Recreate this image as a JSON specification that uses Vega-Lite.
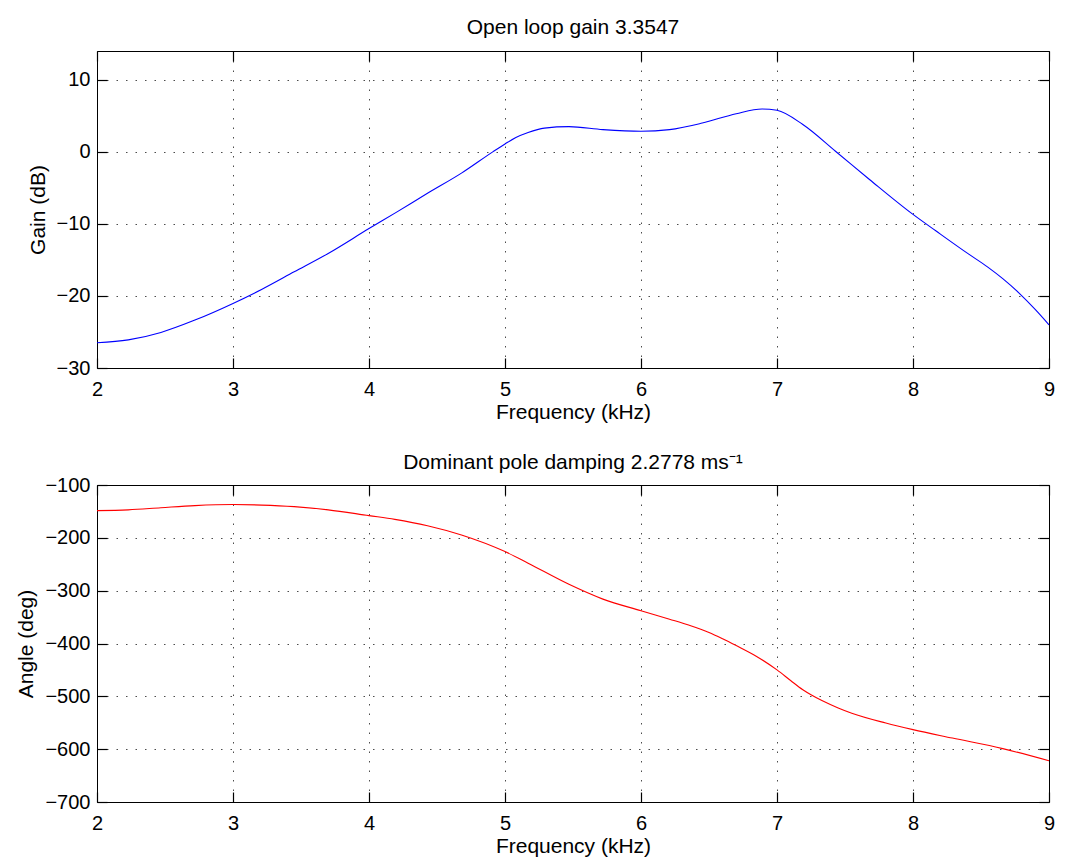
{
  "$schema": "https://vega.github.io/schema/vega-lite/v6.json",
  "background": "white",
  "padding": {"left": 15, "top": 16, "right": 5, "bottom": 5},
  "datasets": {
    "gain": [
      {"f": 2.0, "g": -26.5}, {"f": 2.23, "g": -26.1}, {"f": 2.47, "g": -25.06}, {"f": 2.72, "g": -23.35},
      {"f": 3.0, "g": -21.04}, {"f": 3.21, "g": -19.1}, {"f": 3.45, "g": -16.65}, {"f": 3.7, "g": -14.1},
      {"f": 4.0, "g": -10.65}, {"f": 4.2, "g": -8.4}, {"f": 4.43, "g": -5.75}, {"f": 4.68, "g": -2.95},
      {"f": 4.91, "g": 0.0}, {"f": 5.0, "g": 1.1}, {"f": 5.08, "g": 2.0}, {"f": 5.17, "g": 2.7},
      {"f": 5.29, "g": 3.3}, {"f": 5.47, "g": 3.5}, {"f": 5.72, "g": 3.09}, {"f": 6.0, "g": 2.86},
      {"f": 6.21, "g": 3.09}, {"f": 6.45, "g": 4.0}, {"f": 6.7, "g": 5.3}, {"f": 6.89, "g": 5.96},
      {"f": 7.0, "g": 5.77}, {"f": 7.19, "g": 3.79}, {"f": 7.43, "g": 0.09}, {"f": 7.68, "g": -3.83},
      {"f": 8.0, "g": -8.68}, {"f": 8.17, "g": -10.99}, {"f": 8.41, "g": -14.2}, {"f": 8.55, "g": -16.0},
      {"f": 8.66, "g": -17.6}, {"f": 8.78, "g": -19.6}, {"f": 8.9, "g": -21.9}, {"f": 9.0, "g": -24.0}
    ],
    "phase": [
      {"f": 2.0, "a": -148.5}, {"f": 2.23, "a": -147}, {"f": 2.47, "a": -143}, {"f": 2.72, "a": -139},
      {"f": 3.0, "a": -137}, {"f": 3.21, "a": -138}, {"f": 3.45, "a": -141}, {"f": 3.7, "a": -147},
      {"f": 4.0, "a": -158}, {"f": 4.19, "a": -165}, {"f": 4.43, "a": -177}, {"f": 4.68, "a": -194.5},
      {"f": 5.0, "a": -226}, {"f": 5.17, "a": -248}, {"f": 5.47, "a": -288}, {"f": 5.72, "a": -316},
      {"f": 6.0, "a": -338}, {"f": 6.21, "a": -354}, {"f": 6.35, "a": -365}, {"f": 6.5, "a": -379},
      {"f": 6.6, "a": -391}, {"f": 6.7, "a": -404}, {"f": 6.85, "a": -424.5}, {"f": 7.0, "a": -450},
      {"f": 7.1, "a": -470}, {"f": 7.19, "a": -487.5}, {"f": 7.25, "a": -497}, {"f": 7.33, "a": -508},
      {"f": 7.45, "a": -522}, {"f": 7.55, "a": -532}, {"f": 7.8, "a": -550.5}, {"f": 8.0, "a": -563},
      {"f": 8.29, "a": -579}, {"f": 8.66, "a": -599}, {"f": 9.0, "a": -622}
    ]
  },
  "spacing": 28,
  "vconcat": [
    {
      "title": {"text": "Open loop gain 3.3547", "offset": 12},
      "width": 952,
      "height": 317,
      "data": {"name": "gain"},
      "layer": [
        {
          "mark": {"type": "line", "color": "#0000ff", "strokeWidth": 1.1, "interpolate": "monotone"},
          "encoding": {
            "x": {"field": "f", "type": "quantitative", "scale": {"domain": [2, 9], "nice": false, "zero": false},
                  "axis": {"values": [2, 3, 4, 5, 6, 7, 8, 9], "title": "Frequency (kHz)", "ticks": false, "labelPadding": 11, "titlePadding": 2}},
            "y": {"field": "g", "type": "quantitative", "scale": {"domain": [-30, 14], "nice": false, "zero": false},
                  "axis": {"values": [-30, -20, -10, 0, 10], "title": "Gain (dB)", "ticks": false, "labelPadding": 7, "titlePadding": 8}}
          }
        },
        {
          "mark": {"type": "line", "opacity": 0},
          "encoding": {
            "x": {"field": "f", "type": "quantitative", "axis": {"orient": "top", "ticks": true, "tickSize": -10, "values": [2, 3, 4, 5, 6, 7, 8, 9], "labels": false, "grid": false, "title": null}},
            "y": {"field": "g", "type": "quantitative", "axis": {"orient": "right", "ticks": true, "tickSize": -10, "values": [-30, -20, -10, 0, 10], "labels": false, "grid": false, "title": null}}
          }
        },
        {
          "mark": {"type": "line", "opacity": 0},
          "encoding": {
            "x": {"field": "f", "type": "quantitative", "axis": {"orient": "bottom", "ticks": true, "tickSize": -10, "values": [2, 3, 4, 5, 6, 7, 8, 9], "labels": false, "grid": false, "title": null}},
            "y": {"field": "g", "type": "quantitative", "axis": {"orient": "left", "ticks": true, "tickSize": -10, "values": [-30, -20, -10, 0, 10], "labels": false, "grid": false, "title": null}}
          }
        }
      ],
      "resolve": {"axis": {"x": "independent", "y": "independent"}}
    },
    {
      "title": {"text": "Dominant pole damping 2.2778 ms⁻¹", "offset": 2},
      "width": 952,
      "height": 317,
      "data": {"name": "phase"},
      "layer": [
        {
          "mark": {"type": "line", "color": "#ff0000", "strokeWidth": 1.1, "interpolate": "monotone"},
          "encoding": {
            "x": {"field": "f", "type": "quantitative", "scale": {"domain": [2, 9], "nice": false, "zero": false},
                  "axis": {"values": [2, 3, 4, 5, 6, 7, 8, 9], "title": "Frequency (kHz)", "ticks": false, "labelPadding": 11, "titlePadding": 2}},
            "y": {"field": "a", "type": "quantitative", "scale": {"domain": [-700, -100], "nice": false, "zero": false},
                  "axis": {"values": [-700, -600, -500, -400, -300, -200, -100], "title": "Angle (deg)", "ticks": false, "labelPadding": 7, "titlePadding": 8}}
          }
        },
        {
          "mark": {"type": "line", "opacity": 0},
          "encoding": {
            "x": {"field": "f", "type": "quantitative", "axis": {"orient": "top", "ticks": true, "tickSize": -10, "values": [2, 3, 4, 5, 6, 7, 8, 9], "labels": false, "grid": false, "title": null}},
            "y": {"field": "a", "type": "quantitative", "axis": {"orient": "right", "ticks": true, "tickSize": -10, "values": [-700, -600, -500, -400, -300, -200, -100], "labels": false, "grid": false, "title": null}}
          }
        },
        {
          "mark": {"type": "line", "opacity": 0},
          "encoding": {
            "x": {"field": "f", "type": "quantitative", "axis": {"orient": "bottom", "ticks": true, "tickSize": -10, "values": [2, 3, 4, 5, 6, 7, 8, 9], "labels": false, "grid": false, "title": null}},
            "y": {"field": "a", "type": "quantitative", "axis": {"orient": "left", "ticks": true, "tickSize": -10, "values": [-700, -600, -500, -400, -300, -200, -100], "labels": false, "grid": false, "title": null}}
          }
        }
      ],
      "resolve": {"axis": {"x": "independent", "y": "independent"}}
    }
  ],
  "config": {
    "font": "Liberation Sans",
    "view": {"stroke": "#000000", "strokeWidth": 1},
    "title": {"font": "Liberation Sans", "fontSize": 21, "fontWeight": "normal", "color": "#000000", "anchor": "middle"},
    "axis": {
      "labelFont": "Liberation Sans", "labelFontSize": 20, "labelColor": "#000000",
      "titleFont": "Liberation Sans", "titleFontSize": 21, "titleFontWeight": "normal", "titleColor": "#000000",
      "domain": false, "tickColor": "#000000", "tickWidth": 1.2,
      "grid": true, "gridColor": "#000000", "gridOpacity": 0.7, "gridDash": [1.5, 8], "gridWidth": 1,
      "labelFlush": false, "labelOverlap": false, "labelBound": false
    }
  }
}
